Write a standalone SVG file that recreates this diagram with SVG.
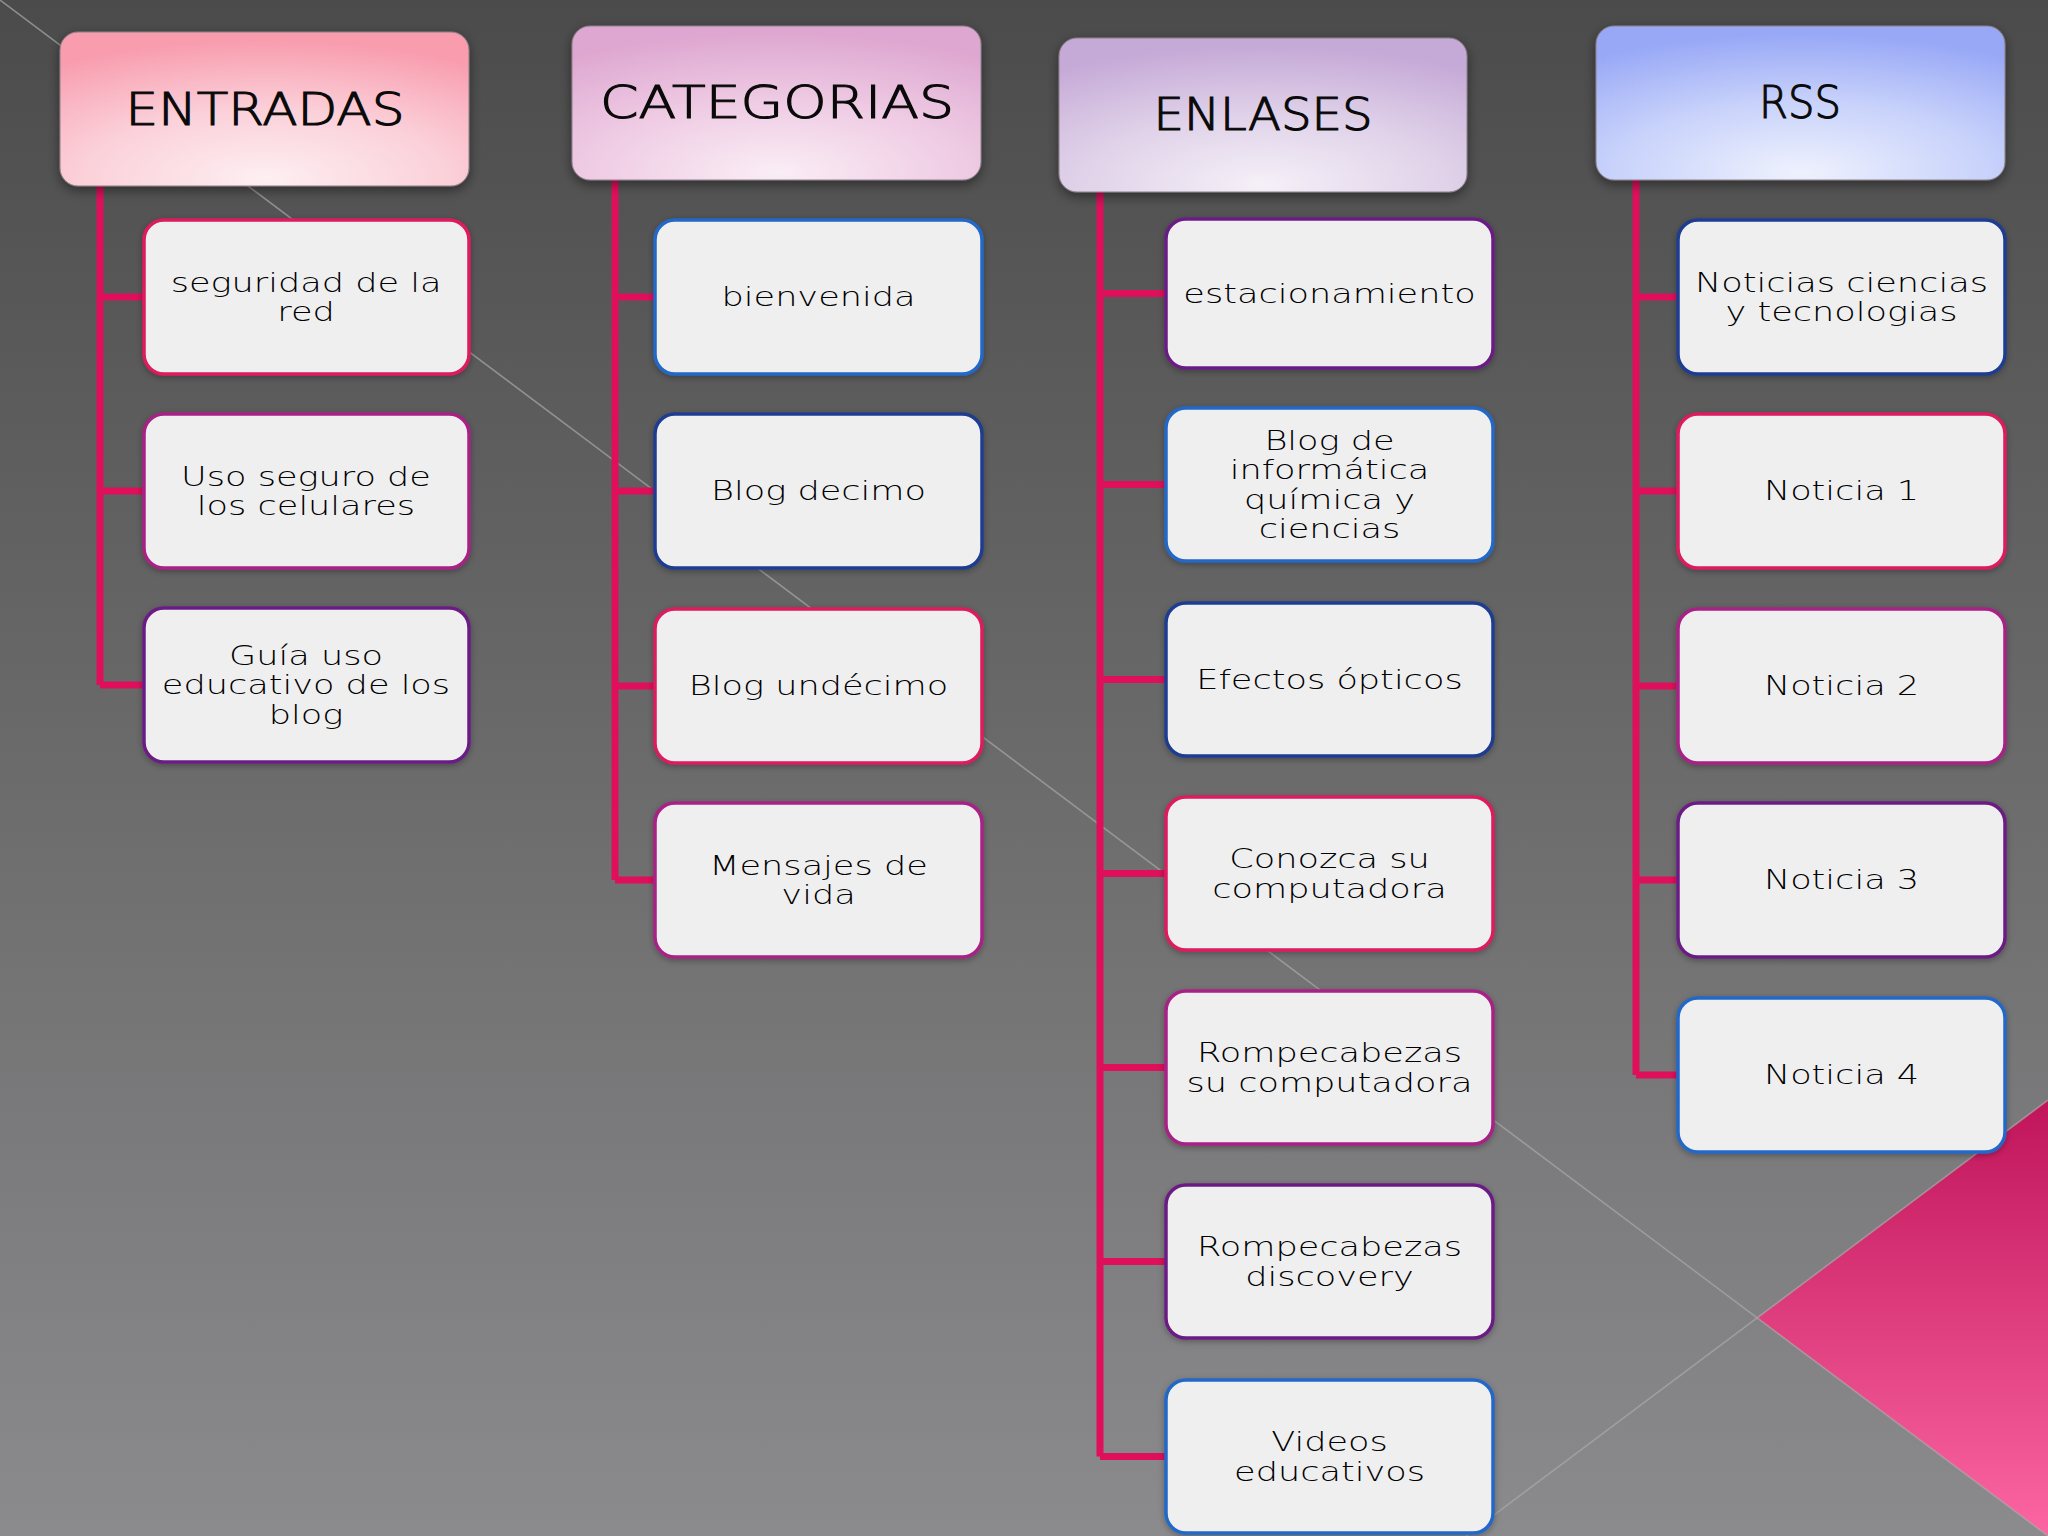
<svg xmlns="http://www.w3.org/2000/svg" width="2048" height="1536" viewBox="0 0 2048 1536">
  <defs>
    <linearGradient id="bg" x1="0" y1="0" x2="0" y2="1">
      <stop offset="0" stop-color="#4b4b4b"/>
      <stop offset="1" stop-color="#8b8b8d"/>
    </linearGradient>
    <linearGradient id="tri" x1="0" y1="1100" x2="0" y2="1536" gradientUnits="userSpaceOnUse">
      <stop offset="0" stop-color="#c0145a"/>
      <stop offset="1" stop-color="#fc66a2"/>
    </linearGradient>
    <radialGradient id="gEnt" cx="0.5" cy="0.95" r="0.9" fx="0.5" fy="0.95">
      <stop offset="0" stop-color="#fdeff2"/>
      <stop offset="0.5" stop-color="#fbd0d9"/>
      <stop offset="1" stop-color="#f89cae"/>
    </radialGradient>
    <radialGradient id="gCat" cx="0.5" cy="0.95" r="0.9" fx="0.5" fy="0.95">
      <stop offset="0" stop-color="#faedf5"/>
      <stop offset="0.5" stop-color="#efcce4"/>
      <stop offset="1" stop-color="#dea7d1"/>
    </radialGradient>
    <radialGradient id="gEnl" cx="0.5" cy="0.95" r="0.9" fx="0.5" fy="0.95">
      <stop offset="0" stop-color="#f5f0f8"/>
      <stop offset="0.5" stop-color="#e0d2e9"/>
      <stop offset="1" stop-color="#c5a9d7"/>
    </radialGradient>
    <radialGradient id="gRss" cx="0.5" cy="0.95" r="0.9" fx="0.5" fy="0.95">
      <stop offset="0" stop-color="#eef1fd"/>
      <stop offset="0.5" stop-color="#c9d3fb"/>
      <stop offset="1" stop-color="#98a8f6"/>
    </radialGradient>
    <filter id="shadow" x="-10%" y="-10%" width="120%" height="130%">
      <feDropShadow dx="0" dy="4" stdDeviation="6" flood-color="#000" flood-opacity="0.45"/>
    </filter>
    <filter id="shadowS" x="-10%" y="-10%" width="120%" height="130%">
      <feDropShadow dx="0" dy="2" stdDeviation="3" flood-color="#000" flood-opacity="0.3"/>
    </filter>
  </defs>
  <style>
    .head { stroke: #8a7f86; stroke-width: 1; filter: url(#shadow); }
    .box { fill: #efeff0; stroke-width: 3.5; filter: url(#shadowS); }
    .c1 { stroke: #dc1a5e; }
    .c2 { stroke: #a82086; }
    .c3 { stroke: #6b1f84; }
    .c4 { stroke: #2468c8; }
    .c5 { stroke: #1f3c90; }
    .ht { font-family: "DejaVu Sans", "Liberation Sans", sans-serif; font-size: 44px; font-weight: 200; fill: #0a0a0a; stroke: #0a0a0a; stroke-width: 1.1; text-anchor: middle; }
    .t { font-family: "DejaVu Sans", "Liberation Sans", sans-serif; font-size: 27px; font-weight: 200; fill: #000; text-anchor: middle; }
    .conn { fill: none; stroke: #df0f5c; stroke-width: 7; stroke-linejoin: miter; }
    .diag { stroke: #a9a9a9; stroke-width: 1.5; stroke-opacity: 0.7; fill: none; }
  </style>

  <!-- background -->
  <rect x="0" y="0" width="2048" height="1536" fill="url(#bg)"/>
  <polygon points="2048,1100 1757,1318 2048,1536" fill="url(#tri)"/>
  <line class="diag" x1="0" y1="0" x2="2048" y2="1536"/>
  <line class="diag" x1="1466" y1="1536" x2="2048" y2="1100"/>

  <!-- connectors -->
  <g id="connectors">
    <path class="conn" d="M100,186 V685 M100,297 H144 M100,491 H144 M100,685 H144"/>
    <path class="conn" d="M615,180 V880 M615,297 H655 M615,491 H655 M615,686 H655 M615,880 H655"/>
    <path class="conn" d="M1100,192 V1456.5 M1100,293.5 H1166 M1100,484.5 H1166 M1100,679.5 H1166 M1100,873.5 H1166 M1100,1067.5 H1166 M1100,1261.5 H1166 M1100,1456.5 H1166"/>
    <path class="conn" d="M1636,180 V1075 M1636,297 H1678 M1636,491 H1678 M1636,686 H1678 M1636,880 H1678 M1636,1075 H1678"/>
  </g>

  <!-- headers -->
  <g id="entradas">
    <rect class="head" x="60" y="32" width="409" height="154" rx="18" fill="url(#gEnt)"/>
    <text class="ht" x="265" y="125" textLength="279" lengthAdjust="spacingAndGlyphs">ENTRADAS</text>
  </g>
  <g id="categorias">
    <rect class="head" x="572" y="26" width="409" height="154" rx="18" fill="url(#gCat)"/>
    <text class="ht" x="777" y="118" textLength="354" lengthAdjust="spacingAndGlyphs">CATEGORIAS</text>
  </g>
  <g id="enlases">
    <rect class="head" x="1059" y="38" width="408" height="154" rx="18" fill="url(#gEnl)"/>
    <text class="ht" x="1263" y="130" textLength="219" lengthAdjust="spacingAndGlyphs">ENLASES</text>
  </g>
  <g id="rss">
    <rect class="head" x="1596" y="26" width="409" height="154" rx="18" fill="url(#gRss)"/>
    <text class="ht" x="1800" y="118" textLength="82" lengthAdjust="spacingAndGlyphs">RSS</text>
  </g>

  <!-- ENTRADAS children -->
  <g id="ent-1">
    <rect class="box c1" x="144" y="220" width="325" height="154" rx="20"/>
    <text class="t" transform="translate(306,0) scale(1.3,1)"><tspan x="0" y="291.75">seguridad de la</tspan><tspan x="0" y="321.25">red</tspan></text>
  </g>
  <g id="ent-2">
    <rect class="box c2" x="144" y="414" width="325" height="154" rx="20"/>
    <text class="t" transform="translate(306,0) scale(1.3,1)"><tspan x="0" y="485.75">Uso seguro de</tspan><tspan x="0" y="515.25">los celulares</tspan></text>
  </g>
  <g id="ent-3">
    <rect class="box c3" x="144" y="608" width="325" height="154" rx="20"/>
    <text class="t" transform="translate(306,0) scale(1.3,1)"><tspan x="0" y="665">Guía uso</tspan><tspan x="0" y="694.5">educativo de los</tspan><tspan x="0" y="724">blog</tspan></text>
  </g>

  <!-- CATEGORIAS children -->
  <g id="cat-1">
    <rect class="box c4" x="655" y="220" width="327" height="154" rx="20"/>
    <text class="t" transform="translate(818.5,0) scale(1.3,1)"><tspan x="0" y="306.5">bienvenida</tspan></text>
  </g>
  <g id="cat-2">
    <rect class="box c5" x="655" y="414" width="327" height="154" rx="20"/>
    <text class="t" transform="translate(818.5,0) scale(1.3,1)"><tspan x="0" y="500.5">Blog decimo</tspan></text>
  </g>
  <g id="cat-3">
    <rect class="box c1" x="655" y="609" width="327" height="154" rx="20"/>
    <text class="t" transform="translate(818.5,0) scale(1.3,1)"><tspan x="0" y="695.5">Blog undécimo</tspan></text>
  </g>
  <g id="cat-4">
    <rect class="box c2" x="655" y="803" width="327" height="154" rx="20"/>
    <text class="t" transform="translate(818.5,0) scale(1.3,1)"><tspan x="0" y="874.75">Mensajes de</tspan><tspan x="0" y="904.25">vida</tspan></text>
  </g>

  <!-- ENLASES children -->
  <g id="enl-1">
    <rect class="box c3" x="1166" y="219" width="327" height="149" rx="20"/>
    <text class="t" transform="translate(1329.5,0) scale(1.3,1)"><tspan x="0" y="303">estacionamiento</tspan></text>
  </g>
  <g id="enl-2">
    <rect class="box c4" x="1166" y="408" width="327" height="153" rx="20"/>
    <text class="t" transform="translate(1329.5,0) scale(1.3,1)"><tspan x="0" y="449.75">Blog de</tspan><tspan x="0" y="479.25">informática</tspan><tspan x="0" y="508.75">química y</tspan><tspan x="0" y="538.25">ciencias</tspan></text>
  </g>
  <g id="enl-3">
    <rect class="box c5" x="1166" y="603" width="327" height="153" rx="20"/>
    <text class="t" transform="translate(1329.5,0) scale(1.3,1)"><tspan x="0" y="689">Efectos ópticos</tspan></text>
  </g>
  <g id="enl-4">
    <rect class="box c1" x="1166" y="797" width="327" height="153" rx="20"/>
    <text class="t" transform="translate(1329.5,0) scale(1.3,1)"><tspan x="0" y="868.25">Conozca su</tspan><tspan x="0" y="897.75">computadora</tspan></text>
  </g>
  <g id="enl-5">
    <rect class="box c2" x="1166" y="991" width="327" height="153" rx="20"/>
    <text class="t" transform="translate(1329.5,0) scale(1.3,1)"><tspan x="0" y="1062.25">Rompecabezas</tspan><tspan x="0" y="1091.75">su computadora</tspan></text>
  </g>
  <g id="enl-6">
    <rect class="box c3" x="1166" y="1185" width="327" height="153" rx="20"/>
    <text class="t" transform="translate(1329.5,0) scale(1.3,1)"><tspan x="0" y="1256.25">Rompecabezas</tspan><tspan x="0" y="1285.75">discovery</tspan></text>
  </g>
  <g id="enl-7">
    <rect class="box c4" x="1166" y="1380" width="327" height="153" rx="20"/>
    <text class="t" transform="translate(1329.5,0) scale(1.3,1)"><tspan x="0" y="1451.25">Videos</tspan><tspan x="0" y="1480.75">educativos</tspan></text>
  </g>

  <!-- RSS children -->
  <g id="rss-1">
    <rect class="box c5" x="1678" y="220" width="327" height="154" rx="20"/>
    <text class="t" transform="translate(1841.5,0) scale(1.3,1)"><tspan x="0" y="291.75">Noticias ciencias</tspan><tspan x="0" y="321.25">y tecnologias</tspan></text>
  </g>
  <g id="rss-2">
    <rect class="box c1" x="1678" y="414" width="327" height="154" rx="20"/>
    <text class="t" transform="translate(1841.5,0) scale(1.3,1)"><tspan x="0" y="500.5">Noticia 1</tspan></text>
  </g>
  <g id="rss-3">
    <rect class="box c2" x="1678" y="609" width="327" height="154" rx="20"/>
    <text class="t" transform="translate(1841.5,0) scale(1.3,1)"><tspan x="0" y="695.5">Noticia 2</tspan></text>
  </g>
  <g id="rss-4">
    <rect class="box c3" x="1678" y="803" width="327" height="154" rx="20"/>
    <text class="t" transform="translate(1841.5,0) scale(1.3,1)"><tspan x="0" y="889.5">Noticia 3</tspan></text>
  </g>
  <g id="rss-5">
    <rect class="box c4" x="1678" y="998" width="327" height="154" rx="20"/>
    <text class="t" transform="translate(1841.5,0) scale(1.3,1)"><tspan x="0" y="1084.5">Noticia 4</tspan></text>
  </g>
</svg>
